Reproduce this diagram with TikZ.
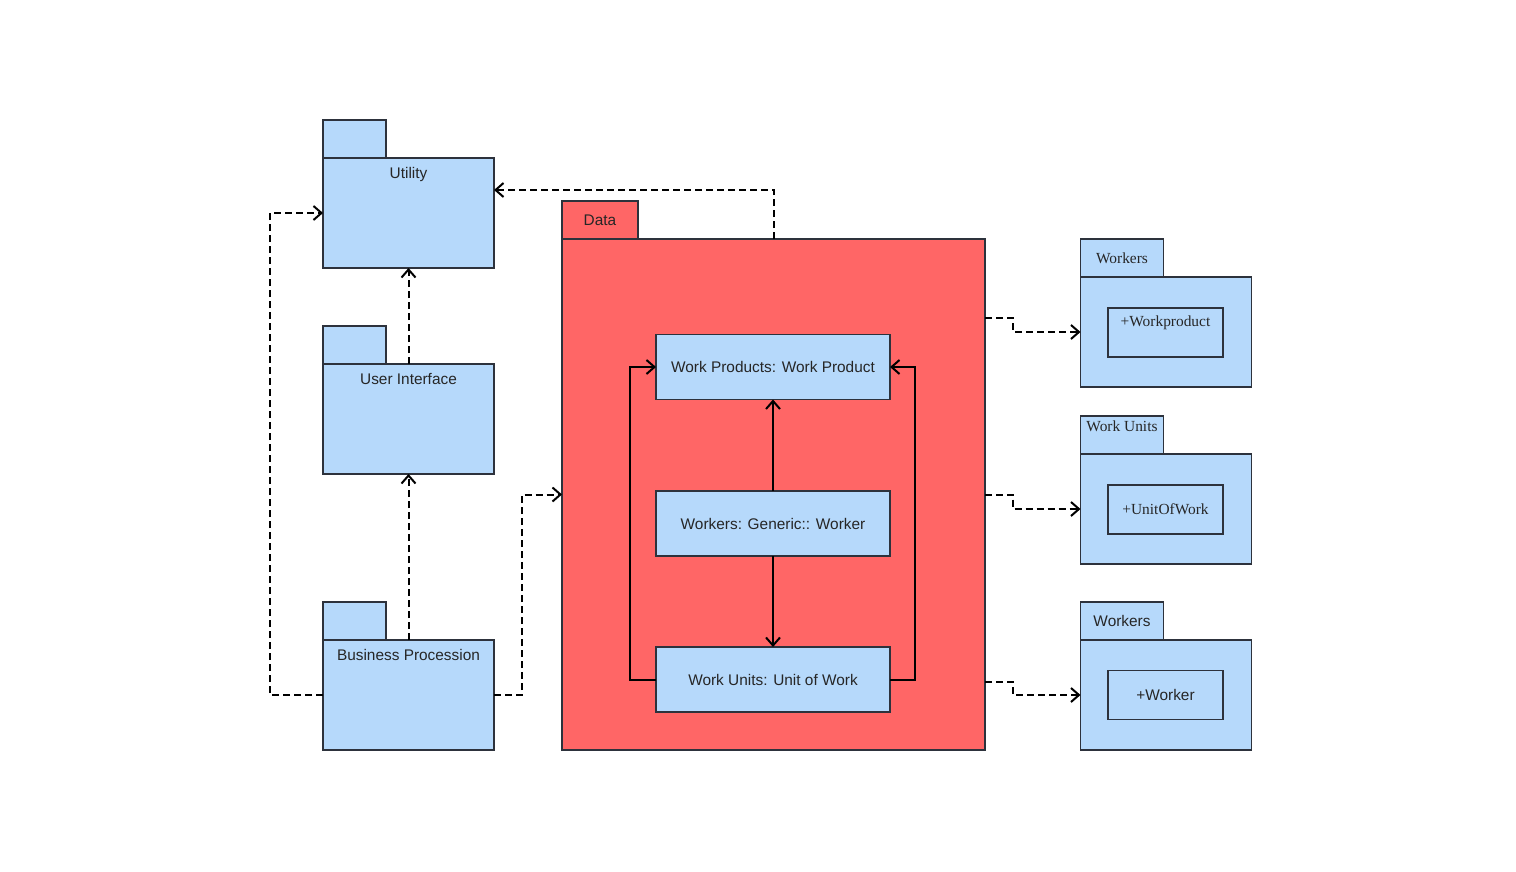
\documentclass[tikz,border=0pt]{standalone}
\usepackage{fontspec}
\setmainfont{Liberation Sans}
\newfontfamily\timesfont{Liberation Serif}
\usetikzlibrary{arrows.meta,positioning}
\definecolor{pkgblue}{RGB}{182,217,251}
\definecolor{datared}{RGB}{255,102,102}
\definecolor{edgegray}{RGB}{45,50,60}
\begin{document}
\begin{tikzpicture}[x=0.5pt,y=-0.5pt]
    \tikzset{pkg/.style={draw=edgegray,line width=0.75pt,fill=pkgblue,minimum
        width=85.5pt,minimum height=55pt,inner sep=0pt,outer sep=0pt},
      pkgtab/.style={pkg,minimum width=31.5pt,minimum height=19pt},
      wtab/.style={pkgtab,minimum width=41.5pt},
      datapkg/.style={pkg,fill=datared,minimum width=211.5pt,minimum
        height=255.5pt}, datatab/.style={datapkg,minimum width=38pt,minimum
        height=19pt},
      cls/.style={pkg,minimum width=117pt,minimum height=32.5pt},
      inbox/.style={pkg,minimum width=57.5pt,minimum height=24.5pt},
      txt/.style={text=black!85,font=\fontsize{7.7}{9}\selectfont,inner sep=4.5pt},
      rtxt/.style={txt,font=\timesfont\fontsize{7.7}{9}\selectfont},
      dep/.style={->,>={Straight Barb[length=4pt,width=7pt]},line width=1pt,dash
        pattern=on 3.5pt off 2pt},
      assoc/.style={->,>={Straight Barb[length=4pt,width=7pt]},line width=1pt}}
    \useasboundingbox (0,0) rectangle (1516,872);

    % left column
    \node[pkg] (util) at (408.5,213) {};
    \node[pkgtab,anchor=south west] (utiltab) at (util.north west) {};
    \node[txt,anchor=north] (utilname) at (util.north) {Utility};
    \node[pkg] (ui) at (408.5,419) {};
    \node[pkgtab,anchor=south west] (uitab) at (ui.north west) {};
    \node[txt,anchor=north] (uiname) at (ui.north) {User Interface};
    \node[pkg] (bp) at (408.5,695) {};
    \node[pkgtab,anchor=south west] (bptab) at (bp.north west) {};
    \node[txt,anchor=north] (bpname) at (bp.north) {Business Procession};

    % data package
    \node[datapkg] (data) at (773.5,494.5) {};
    \node[datatab,anchor=south west] (datatab) at (data.north west) {};
    \node[txt] (dataname) at (datatab) {Data};
    \node[cls] (wp) at (773,367) {};
    \node[txt] (wpname) at (wp) {Work Products: Work Product};
    \node[cls] (wg) at (773,523.5) {};
    \node[txt] (wgname) at (wg) {Workers: Generic:: Worker};
    \node[cls] (wu) at (773,679.5) {};
    \node[txt] (wuname) at (wu) {Work Units: Unit of Work};

    % right column
    \node[pkg] (wk) at (1166,332) {};
    \node[wtab,anchor=south west] (wktab) at (wk.north west) {};
    \node[rtxt] (wktabname) at (wktab) {Workers};
    \node[inbox] (wkin) at (1165.5,332.5) {};
    \node[rtxt,anchor=north,inner sep=3.5pt] (wkinname) at (wkin.north) {+Workproduct};
    \node[pkg] (wun) at (1166,509) {};
    \node[wtab,anchor=south west] (wuntab) at (wun.north west) {};
    \node[rtxt,anchor=north,inner sep=2pt] (wuntabname) at (wuntab.north) {Work Units};
    \node[inbox] (wunin) at (1165.5,509.5) {};
    \node[rtxt] (wuninname) at (wunin) {+UnitOfWork};
    \node[pkg] (wr) at (1166,695) {};
    \node[wtab,anchor=south west] (wrtab) at (wr.north west) {};
    \node[txt] (wrtabname) at (wrtab) {Workers};
    \node[inbox] (wrin) at (1165.5,695) {};
    \node[txt] (wrinname) at (wrin) {+Worker};

    % dependencies
    \draw[dep] (data.north) |- ([yshift=11.5pt]util.east);
    \draw[dep] (ui.north) -- (util.south);
    \draw[dep] (bp.north) -- (ui.south);
    \draw[dep] (bp.west) -- ++(-53,0) |- (util.west);
    \draw[dep] (bp.east) -- ++(28,0) |- (data.west);
    \draw[dep] (data.east |- 0,318) -- (1013,318) |- (wk.west);
    \draw[dep] (data.east) -- ++(28,0) |- (wun.west);
    \draw[dep] (data.east |- 0,682) -- (1013,682) |- (wr.west);

    % associations
    \draw[assoc] (wg.north) -- (wp.south);
    \draw[assoc] (wg.south) -- (wu.north);
    \draw[assoc] (wu.west) -- ++(-26,0) |- (wp.west);
    \draw[assoc] (wu.east) -- ++(25,0) |- (wp.east);
\end{tikzpicture}
\end{document}
